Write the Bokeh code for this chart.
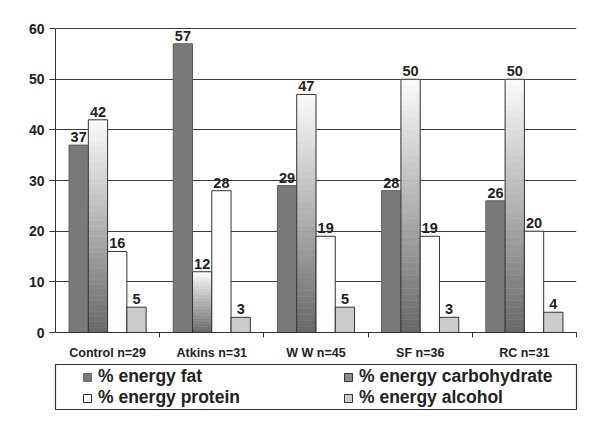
from bokeh.plotting import figure
from bokeh.layouts import column
from bokeh.models import (Range1d, FixedTicker, ColumnDataSource, Legend, LegendItem)
from bokeh.core.properties import value
from bokeh.embed import file_html
from bokeh.resources import INLINE

categories = ["Control n=29", "Atkins n=31", "W W n=45", "SF n=36", "RC n=31"]
fat = [37, 57, 29, 28, 26]
carbohydrate = [42, 12, 47, 50, 50]
protein = [16, 28, 19, 19, 20]
alcohol = [5, 3, 5, 3, 4]
series_labels = ["% energy fat", "% energy carbohydrate", "% energy protein", "% energy alcohol"]
y_ticks = [0, 10, 20, 30, 40, 50, 60]

FONT = "Liberation Sans"
BW = 0.185
n = len(categories)

p = figure(width=584, height=363, output_backend="svg", toolbar_location=None,
           x_range=Range1d(0, n), y_range=Range1d(0, 62),
           min_border_left=48, min_border_right=2, min_border_top=18, min_border_bottom=31)
p.outline_line_color = None
p.xgrid.visible = False
p.ygrid.ticker = FixedTicker(ticks=y_ticks)
p.ygrid.grid_line_color = "#3a3a3a"
p.ygrid.grid_line_width = 1

# y axis
p.yaxis.ticker = FixedTicker(ticks=y_ticks)
p.yaxis.bounds = (0, 60)
p.yaxis.axis_line_color = "#333333"
p.yaxis.major_tick_line_color = "#333333"
p.yaxis.major_tick_out = 6
p.yaxis.major_tick_in = 0
p.yaxis.minor_tick_line_color = None
p.yaxis.major_label_text_font = FONT
p.yaxis.major_label_text_font_style = "bold"
p.yaxis.major_label_text_font_size = "14px"
p.yaxis.major_label_text_color = "#222222"
p.yaxis.major_label_standoff = 5

# x axis: labels at centres, ticks at boundaries
centers = [i + 0.5 for i in range(n)]
p.xaxis.ticker = FixedTicker(ticks=centers, minor_ticks=[i + 1 for i in range(n)])
p.xaxis.major_label_overrides = {c: lab for c, lab in zip(centers, categories)}
p.xaxis.axis_line_color = "#333333"
p.xaxis.major_tick_line_color = None
p.xaxis.minor_tick_line_color = "#333333"
p.xaxis.minor_tick_out = 5
p.xaxis.minor_tick_in = 0
p.xaxis.major_label_text_font = FONT
p.xaxis.major_label_text_font_style = "bold"
p.xaxis.major_label_text_font_size = "12.5px"
p.xaxis.major_label_text_color = "#222222"
p.xaxis.major_label_standoff = 7

offsets = [-1.5 * BW, -0.5 * BW, 0.5 * BW, 1.5 * BW]
xs = [[c + o for c in centers] for o in offsets]

# fat
p.vbar(x=xs[0], top=fat, bottom=0, width=BW, fill_color="#7a7a7a", line_color="#5a5a5a")

# carbohydrate with vertical gradient
N = 40
gx, gb, gt, gc = [], [], [], []
for x, v in zip(xs[1], carbohydrate):
    for s in range(N):
        frac = (s + 0.5) / N
        lvl = int(104 + (252 - 104) * frac)
        col = "#%02x%02x%02x" % (lvl, lvl, lvl)
        gx.append(x)
        gb.append(v * s / N)
        gt.append(v * (s + 1) / N)
        gc.append(col)
gsrc = ColumnDataSource(dict(x=gx, bottom=gb, top=gt, color=gc))
p.vbar(x="x", bottom="bottom", top="top", width=BW, fill_color="color", line_color="color",
       line_width=0.6, source=gsrc)
p.vbar(x=xs[1], top=carbohydrate, bottom=0, width=BW, fill_color=None, line_color="#333333")

# protein
p.vbar(x=xs[2], top=protein, bottom=0, width=BW, fill_color="#fdfdfd", line_color="#333333")
# alcohol
p.vbar(x=xs[3], top=alcohol, bottom=0, width=BW, fill_color="#cccccc", line_color="#333333")

# value labels
for xx, vals in zip(xs, [fat, carbohydrate, protein, alcohol]):
    p.text(x=xx, y=vals, text=[str(v) for v in vals], text_align="center",
           text_baseline="alphabetic", y_offset=-8, text_font=value(FONT),
           text_font_style="bold", text_font_size="14.5px", text_color="#222222")

# legend figure (its frame outline is the legend box)
q = figure(width=584, height=47, output_backend="svg", toolbar_location=None,
           x_range=Range1d(0, 1), y_range=Range1d(0, 1),
           x_axis_location=None, y_axis_location=None,
           min_border_left=55, min_border_right=8, min_border_top=1, min_border_bottom=1)
q.grid.visible = False
q.outline_line_color = "#333333"
q.outline_line_width = 1.2

# hidden swatch renderers (one entry each so the legend can draw them)
sw_src = ColumnDataSource(dict(x=[0.5], top=[0.5]))
sw_fat = q.vbar(x="x", top="top", width=0.1, source=sw_src, fill_color="#7a7a7a",
                line_color="#6a6a6a", visible=False)
sw_carb = q.vbar(x="x", top="top", width=0.1, source=sw_src, fill_color="#8c8c8c",
                 line_color="#333333", visible=False)
sw_prot = q.vbar(x="x", top="top", width=0.1, source=sw_src, fill_color="white",
                 line_color="#333333", visible=False)
sw_alc = q.vbar(x="x", top="top", width=0.1, source=sw_src, fill_color="#cccccc",
                line_color="#333333", visible=False)

def make_legend(items, loc):
    return Legend(items=items, location=loc, orientation="vertical", padding=0, spacing=0,
                  margin=0, border_line_color=None, background_fill_alpha=0,
                  inactive_fill_alpha=0,
                  glyph_width=10, glyph_height=10, label_standoff=6, label_height=19,
                  label_text_font=FONT, label_text_font_style="bold",
                  label_text_font_size="17.5px", label_text_color="#222222")

lg1 = make_legend([LegendItem(label=series_labels[0], renderers=[sw_fat]),
                   LegendItem(label=series_labels[2], renderers=[sw_prot])], (27, 1))
lg2 = make_legend([LegendItem(label=series_labels[1], renderers=[sw_carb]),
                   LegendItem(label=series_labels[3], renderers=[sw_alc])], (288, 1))
q.add_layout(lg1)
q.add_layout(lg2)

layout = column(p, q, spacing=0)
open("out.html", "w").write(file_html(layout, INLINE))
